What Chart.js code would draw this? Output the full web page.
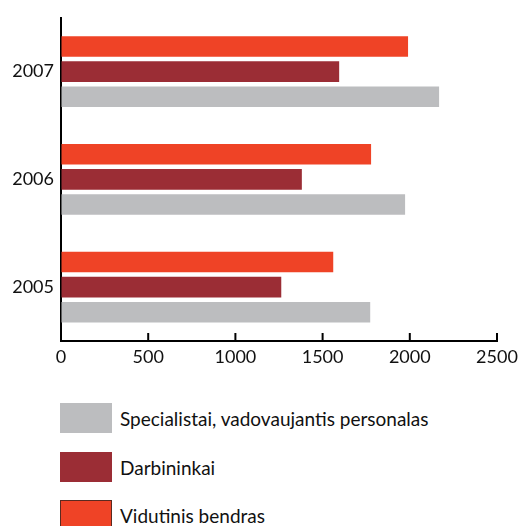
<!DOCTYPE html>
<html>
<head>
<meta charset="utf-8">
<script src="https://cdn.jsdelivr.net/npm/chart.js@4"></script>
<style>
    body { margin: 0; background: #fff; }
    #wrap { position: relative; width: 519px; height: 526px; overflow: hidden; font-family: Lato, sans-serif; }
    #chartBox { position: absolute; left: 0; top: 0; width: 519px; height: 375px; }
    .legendItem { position: absolute; left: 60px; height: 30px; display: flex; align-items: center; font-size: 19px; color: #111; }
    .legendItem span.box { display: inline-block; width: 52px; height: 30px; margin-right: 8px; box-sizing: border-box; }
</style>
</head>
<body>
<div id="wrap">
    <div id="chartBox"><canvas id="chartCanvas"></canvas></div>
    <div id="legend"></div>
</div>
<script>
    const years = ['2007', '2006', '2005']
    const vidutinis = [1990, 1778, 1561]
    const darbininkai = [1595, 1381, 1263]
    const specialistai = [2168, 1973, 1773]
    const xTicks = [0, 500, 1000, 1500, 2000, 2500]

    const seriesNames = ['Vidutinis bendras', 'Darbininkai', 'Specialistai, vadovaujantis personalas']
    const seriesColors = ['#EF4326', '#9B2D35', '#BCBDBF']

    // small tick marks pointing into the plot area
    const innerTicks = {
        id: 'innerTicks',
        afterDraw(chart) {
            const ctx = chart.ctx
            const x = chart.scales.x
            const bottom = chart.chartArea.bottom
            ctx.save()
            ctx.strokeStyle = '#000'
            ctx.lineWidth = 2
            x.ticks.forEach(t => {
                const px = x.getPixelForValue(t.value)
                ctx.beginPath()
                ctx.moveTo(px, bottom - 8)
                ctx.lineTo(px, bottom)
                ctx.stroke()
            })
            ctx.restore()
        }
    }

    Chart.defaults.font.family = 'Lato, sans-serif'
    Chart.defaults.font.size = 18
    Chart.defaults.color = '#111'

    new Chart(document.getElementById('chartCanvas'), {
        type: 'bar',
        data: {
            labels: years,
            datasets: [
                { label: seriesNames[0], data: vidutinis, backgroundColor: seriesColors[0] },
                { label: seriesNames[1], data: darbininkai, backgroundColor: seriesColors[1] },
                { label: seriesNames[2], data: specialistai, backgroundColor: seriesColors[2] }
            ]
        },
        options: {
            indexAxis: 'y',
            responsive: true,
            maintainAspectRatio: false,
            animation: false,
            datasets: { bar: { categoryPercentage: 0.70, barPercentage: 0.82 } },
            layout: { padding: { top: 13, right: 22, left: 0, bottom: 0 } },
            plugins: { legend: { display: false }, tooltip: { enabled: false } },
            scales: {
                x: {
                    min: 0, max: 2500,
                    afterBuildTicks: s => { s.ticks = xTicks.map(v => ({ value: v })) },
                    grid: { drawOnChartArea: false, drawTicks: false },
                    border: { color: '#000', width: 2 },
                    ticks: { padding: 5, maxRotation: 0, callback: v => String(v) },
                    afterFit: s => { s.height = 34; s.paddingRight = 0 }
                },
                y: {
                    grid: { drawOnChartArea: false, drawTicks: false },
                    border: { color: '#000', width: 2 },
                    ticks: { padding: 7 },
                    afterFit: s => { s.width = 61 }
                }
            }
        },
        plugins: [innerTicks]
    })

    const legendTops = [403, 452, 500]
    const legendOrder = [2, 1, 0]
    const legend = document.getElementById('legend')
    legendOrder.forEach((si, i) => {
        const item = document.createElement('div')
        item.className = 'legendItem'
        item.style.top = legendTops[i] + 'px'
        const border = si === 0 ? 'border:1px solid #5a2a20;' : ''
        item.innerHTML = `<span class="box" style="background:${seriesColors[si]};${border}"></span>${seriesNames[si]}`
        legend.appendChild(item)
    })
</script>
</body>
</html>
